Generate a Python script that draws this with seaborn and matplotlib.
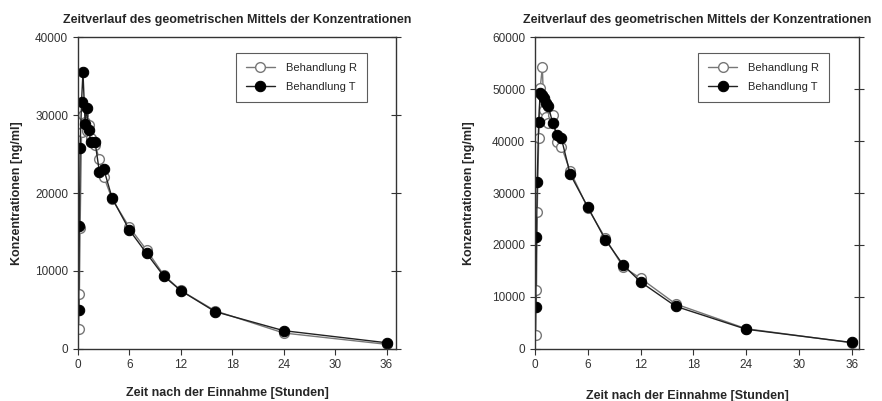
import numpy as np
import pandas as pd
import matplotlib
matplotlib.use('Agg')
import matplotlib.pyplot as plt
import seaborn as sns

# sampling times [h]
zeit = [0.083, 0.167, 0.25, 0.417, 0.583, 0.833, 1.0, 1.25, 1.5, 2.0, 2.5, 3.0,
        4, 6, 8, 10, 12, 16, 24, 36]

# left panel
links_R = [2600, 7100, 15500, 27800, 30000, 29100, 27900, 28700, 27000, 26200, 24300, 22100,
           19200, 15600, 12700, 9500, 7500, 4900, 2050, 600]
links_T = [5000, 15800, 25800, 31700, 35500, 28900, 30850, 28100, 26600, 26500, 22700, 23100,
           19300, 15250, 12270, 9360, 7480, 4790, 2350, 800]

# right panel
rechts_R = [2700, 11300, 26400, 40500, 50100, 54200, 46000, 44700, 43400, 45000, 39900, 38900,
            34200, 27100, 21300, 15800, 13600, 8650, 3900, 1200]
rechts_T = [8100, 21600, 32200, 43700, 49300, 48850, 48200, 47250, 46800, 43500, 41200, 40500,
            33600, 27300, 21000, 16200, 12900, 8200, 3800, 1250]

titel = 'Zeitverlauf des geometrischen Mittels der Konzentrationen'
xlab = 'Zeit nach der Einnahme [Stunden]'
ylab = 'Konzentrationen [ng/ml]'
xticks = [0, 6, 12, 18, 24, 30, 36]

sns.set_style('ticks')
plt.rcParams['font.family'] = ['Liberation Sans', 'DejaVu Sans']

fig = plt.figure(figsize=(8.82, 4.01), dpi=100)
ax1 = fig.add_axes([0.0884, 0.1297, 0.3605, 0.778])
ax2 = fig.add_axes([0.6066, 0.1297, 0.367, 0.778])

panels = [(ax1, links_R, links_T, 40000, 37.1, -0.172, -0.122),
          (ax2, rechts_R, rechts_T, 60000, 36.8, -0.185, -0.13)]

for ax, r, t, ymax, xmax, ylpos, xlpos in panels:
    df_r = pd.DataFrame({'zeit': zeit, 'konz': r})
    df_t = pd.DataFrame({'zeit': zeit, 'konz': t})
    sns.lineplot(data=df_r, x='zeit', y='konz', ax=ax, estimator=None, color='#777777',
                 linewidth=1.0, marker='o', markersize=7, markerfacecolor='white',
                 markeredgecolor='#777777', markeredgewidth=1.0, label='Behandlung R')
    sns.lineplot(data=df_t, x='zeit', y='konz', ax=ax, estimator=None, color='#222222',
                 linewidth=1.0, marker='o', markersize=7.5, markerfacecolor='black',
                 markeredgecolor='black', label='Behandlung T')
    ax.set_xlim(0, xmax)
    ax.set_ylim(0, ymax)
    ax.set_xticks(xticks)
    ax.set_yticks(np.arange(0, ymax + 1, 10000))
    ax.tick_params(axis='both', labelsize=8.5, labelcolor='#333333', color='#333333')
    ax.tick_params(axis='y', direction='inout', length=7, width=0.8, right=True)
    ax.tick_params(axis='x', direction='out', length=4, width=0.8)
    for s in ax.spines.values():
        s.set_linewidth(1.0)
        s.set_color('#333333')
    ax.set_title(titel, fontsize=9, fontweight='bold', pad=10)
    ax.set_xlabel(xlab, fontsize=9, fontweight='bold')
    ax.set_ylabel(ylab, fontsize=9, fontweight='bold')
    ax.xaxis.set_label_coords(0.47, xlpos)
    ax.yaxis.set_label_coords(ylpos, 0.5)
    leg = ax.legend(loc='upper right', bbox_to_anchor=(0.909, 0.949), borderaxespad=0,
                    fontsize=8, frameon=True, fancybox=False, edgecolor='#333333',
                    handlelength=2.6, borderpad=0.9, labelspacing=0.85, handletextpad=1.0)
    leg.get_frame().set_linewidth(0.8)
    ax.grid(False)

fig.savefig('out.png', dpi=100)
